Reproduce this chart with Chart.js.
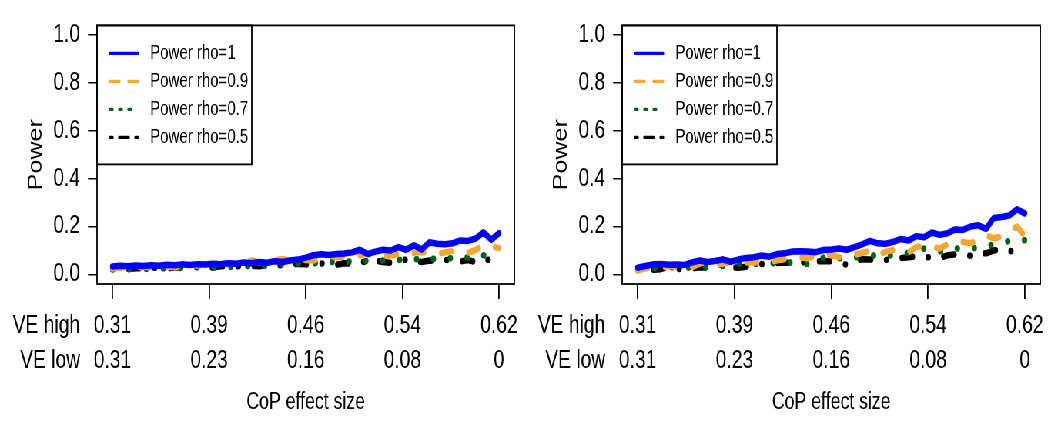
<!DOCTYPE html>
<html>
<head>
<meta charset="utf-8">
<script src="https://cdn.jsdelivr.net/npm/chart.js@4"></script>
<style>
  body { margin: 0; background: #fff; overflow: hidden; }
  /* the original figure is squeezed horizontally, so draw wide and squeeze */
  #wrap { display: flex; width: 1365px; height: 421px; transform: scaleX(0.77); transform-origin: 0 0; }
  canvas { display: block; }
</style>
</head>
<body>
<div id="wrap">
  <canvas id="leftChart" width="682" height="421"></canvas>
  <canvas id="rightChart" width="683" height="421"></canvas>
</div>
<script>
// step index along the CoP effect size range (0 = start, 50 = end)
const steps = Array.from({ length: 51 }, (_, i) => i);
const tickAt = [0, 12.5, 25, 37.5, 50];
const veHigh = ['0.31', '0.39', '0.46', '0.54', '0.62'];
const veLow = ['0.31', '0.23', '0.16', '0.08', '0'];
const yTicks = [0, 0.2, 0.4, 0.6, 0.8, 1.0];

const seriesNames = ['Power rho=1', 'Power rho=0.9', 'Power rho=0.7', 'Power rho=0.5'];
const seriesColors = ['#0000FF', '#F5A732', '#006414', '#000000'];

// left panel
const leftRho1 = [
  0.033, 0.036, 0.034, 0.037, 0.035, 0.038, 0.036, 0.040, 0.038, 0.042,
  0.039, 0.043, 0.041, 0.045, 0.043, 0.047, 0.045, 0.050, 0.047, 0.052,
  0.049, 0.055, 0.052, 0.058, 0.062, 0.070, 0.080, 0.084, 0.081, 0.085,
  0.087, 0.092, 0.103, 0.085, 0.095, 0.103, 0.100, 0.114, 0.103, 0.122,
  0.104, 0.134, 0.128, 0.126, 0.130, 0.142, 0.140, 0.150, 0.176, 0.145, 0.172
];
const leftRho09 = [
  0.025, 0.028, 0.030, 0.027, 0.032, 0.030, 0.035, 0.032, 0.030, 0.036,
  0.040, 0.037, 0.041, 0.038, 0.044, 0.046, 0.043, 0.052, 0.058, 0.050,
  0.055, 0.060, 0.063, 0.058, 0.066, 0.060, 0.058, 0.070, 0.078, 0.072,
  0.075, 0.070, 0.080, 0.088, 0.070, 0.075, 0.080, 0.084, 0.078, 0.090,
  0.094, 0.088, 0.085, 0.092, 0.098, 0.094, 0.090, 0.102, 0.124, 0.118, 0.110
];
const leftRho07 = [
  0.022, 0.025, 0.021, 0.026, 0.024, 0.022, 0.027, 0.025, 0.023, 0.028,
  0.026, 0.030, 0.027, 0.031, 0.029, 0.033, 0.030, 0.036, 0.034, 0.038,
  0.036, 0.040, 0.043, 0.041, 0.045, 0.048, 0.046, 0.050, 0.053, 0.051,
  0.055, 0.053, 0.058, 0.056, 0.060, 0.058, 0.062, 0.060, 0.064, 0.062,
  0.066, 0.063, 0.067, 0.065, 0.069, 0.066, 0.071, 0.085, 0.080, 0.070, 0.068
];
const leftRho05 = [
  0.022, 0.024, 0.023, 0.026, 0.025, 0.028, 0.027, 0.025, 0.029, 0.030,
  0.028, 0.032, 0.031, 0.029, 0.034, 0.035, 0.033, 0.037, 0.036, 0.034,
  0.038, 0.040, 0.037, 0.041, 0.044, 0.042, 0.040, 0.046, 0.043, 0.041,
  0.047, 0.045, 0.055, 0.050, 0.058, 0.052, 0.048, 0.057, 0.062, 0.055,
  0.052, 0.058, 0.056, 0.061, 0.059, 0.054, 0.060, 0.051, 0.064, 0.059, 0.058
];

// right panel
const rightRho1 = [
  0.028, 0.035, 0.042, 0.044, 0.040, 0.041, 0.039, 0.050, 0.058, 0.052,
  0.056, 0.063, 0.053, 0.062, 0.069, 0.072, 0.079, 0.074, 0.085, 0.088,
  0.096, 0.097, 0.096, 0.093, 0.102, 0.104, 0.108, 0.103, 0.114, 0.126,
  0.140, 0.130, 0.128, 0.136, 0.148, 0.142, 0.160, 0.155, 0.175, 0.165,
  0.172, 0.188, 0.186, 0.200, 0.205, 0.190, 0.236, 0.240, 0.246, 0.272, 0.255
];
const rightRho09 = [
  0.016, 0.025, 0.030, 0.027, 0.035, 0.033, 0.024, 0.030, 0.045, 0.052,
  0.042, 0.045, 0.052, 0.054, 0.050, 0.052, 0.050, 0.048, 0.059, 0.064,
  0.068, 0.070, 0.068, 0.080, 0.085, 0.080, 0.072, 0.078, 0.082, 0.090,
  0.100, 0.080, 0.094, 0.102, 0.104, 0.092, 0.115, 0.120, 0.115, 0.108,
  0.125, 0.140, 0.135, 0.130, 0.144, 0.165, 0.150, 0.160, 0.180, 0.200, 0.160
];
const rightRho07 = [
  0.020, 0.023, 0.025, 0.028, 0.030, 0.029, 0.027, 0.030, 0.032, 0.031,
  0.034, 0.036, 0.040, 0.045, 0.048, 0.044, 0.043, 0.046, 0.048, 0.050,
  0.049, 0.045, 0.044, 0.060, 0.070, 0.075, 0.068, 0.064, 0.070, 0.075,
  0.078, 0.080, 0.076, 0.082, 0.086, 0.090, 0.098, 0.108, 0.100, 0.096,
  0.102, 0.108, 0.110, 0.108, 0.112, 0.118, 0.125, 0.132, 0.140, 0.138, 0.143
];
const rightRho05 = [
  0.020, 0.021, 0.019, 0.022, 0.035, 0.025, 0.020, 0.024, 0.030, 0.028,
  0.045, 0.040, 0.030, 0.028, 0.032, 0.040, 0.043, 0.045, 0.048, 0.050,
  0.046, 0.052, 0.050, 0.054, 0.056, 0.055, 0.050, 0.040, 0.058, 0.063,
  0.062, 0.065, 0.060, 0.066, 0.068, 0.072, 0.076, 0.074, 0.070, 0.068,
  0.080, 0.084, 0.082, 0.078, 0.090, 0.088, 0.100, 0.105, 0.098, 0.095, 0.103
];

// R style line types, thick in the plot, thin in the legend
const lineDash = [[], [13, 23], [0.5, 21.5], [0.5, 20, 14, 20]];
const legendDash = [[], [12, 12], [3, 9], [3, 9, 12, 9]];

const FONT = "'Liberation Sans', Arial, sans-serif";

// box round the plot, legend and the "VE high / VE low" row names
const decorations = {
  id: 'decorations',
  afterDatasetsDraw(chart) {
    const { ctx, chartArea: a } = chart;
    ctx.save();

    // legend
    ctx.fillStyle = '#fff';
    ctx.fillRect(a.left, a.top, 201, 139);
    ctx.strokeStyle = '#000';
    ctx.lineWidth = 1.8;
    ctx.strokeRect(a.left, a.top, 201, 139);
    ctx.font = '19.5px ' + FONT;
    ctx.textAlign = 'left';
    ctx.textBaseline = 'middle';
    chart.data.datasets.forEach((ds, k) => {
      const y = a.top + 28 + 28 * k;
      ctx.beginPath();
      ctx.setLineDash(legendDash[k]);
      ctx.lineCap = 'round';
      ctx.lineWidth = 3.4;
      ctx.strokeStyle = ds.borderColor;
      ctx.moveTo(a.left + 17, y);
      ctx.lineTo(a.left + 53, y);
      ctx.stroke();
      ctx.fillStyle = '#000';
      ctx.fillText(ds.label, a.left + 69, y);
    });
    ctx.setLineDash([]);

    // plot box
    ctx.lineWidth = 1.8;
    ctx.strokeStyle = '#000';
    ctx.strokeRect(a.left, a.top, a.right - a.left, a.bottom - a.top);

    // names of the two tick label rows
    ctx.fillStyle = '#000';
    ctx.font = '25px ' + FONT;
    ctx.textAlign = 'right';
    ctx.textBaseline = 'middle';
    ctx.fillText('VE high', a.left - 22, a.bottom + 42);
    ctx.fillText('VE low', a.left - 22, a.bottom + 77);
    ctx.restore();
  }
};

function makePanel(id, series, padRight) {
  const ctx = document.getElementById(id).getContext('2d');
  return new Chart(ctx, {
    type: 'line',
    data: {
      datasets: series.map((vals, k) => ({
        label: seriesNames[k],
        data: vals.map((v, i) => ({ x: steps[i], y: v })),
        borderColor: seriesColors[k],
        borderWidth: 6.5,
        borderDash: lineDash[k],
        borderCapStyle: 'round',
        borderJoinStyle: 'round',
        pointRadius: 0,
        tension: 0,
        fill: false
      }))
    },
    options: {
      responsive: false,
      animation: false,
      events: [],
      layout: { padding: { top: 14, right: padRight, bottom: 0, left: 0 } },
      plugins: { legend: { display: false }, tooltip: { enabled: false } },
      scales: {
        x: {
          type: 'linear',
          min: -2,
          max: 52,
          afterBuildTicks: s => { s.ticks = tickAt.map(v => ({ value: v })); },
          afterFit: s => { s.height = 137; },
          grid: { drawOnChartArea: false, tickLength: 15, color: '#000', lineWidth: 1.8 },
          border: { display: false },
          ticks: {
            color: '#000',
            padding: 9.5,
            maxRotation: 0,
            font: { family: FONT, size: 25, lineHeight: '35px' },
            callback: (v) => {
              const i = tickAt.indexOf(v);
              return i < 0 ? '' : [veHigh[i], veLow[i]];
            }
          },
          title: {
            display: true,
            text: 'CoP effect size',
            color: '#000',
            font: { family: FONT, size: 23 },
            padding: { top: 0, bottom: 4.2 }
          }
        },
        y: {
          min: -0.04,
          max: 1.04,
          afterBuildTicks: s => { s.ticks = yTicks.map(v => ({ value: v })); },
          afterFit: s => { s.width = 126; },
          grid: { drawOnChartArea: false, tickLength: 11.7, color: '#000', lineWidth: 1.5 },
          border: { display: false },
          ticks: {
            color: '#000',
            padding: 10.4,
            font: { family: FONT, size: 25 },
            callback: v => v.toFixed(1)
          },
          title: {
            display: true,
            text: 'Power',
            color: '#000',
            font: { family: FONT, size: 25 },
            padding: { top: 31.8, bottom: 0 }
          }
        }
      }
    },
    plugins: [decorations]
  });
}

makePanel('leftChart', [leftRho1, leftRho09, leftRho07, leftRho05], 5.4);
makePanel('rightChart', [rightRho1, rightRho09, rightRho07, rightRho05], 6.4);
</script>
</body>
</html>
